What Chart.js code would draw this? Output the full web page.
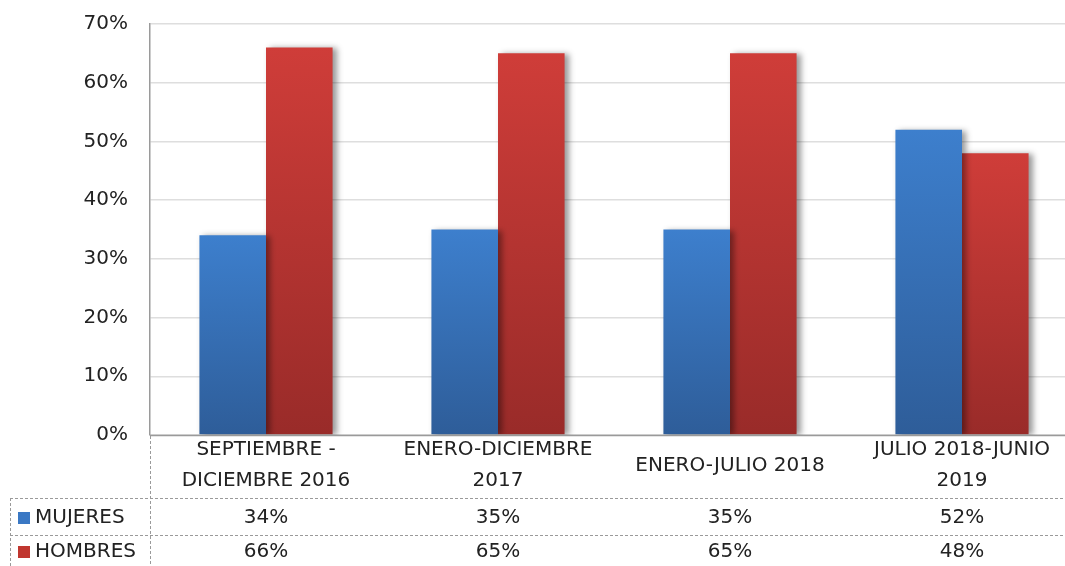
<!DOCTYPE html>
<html><head><meta charset="utf-8">
<script src="https://cdn.jsdelivr.net/npm/chart.js@4.4.0/dist/chart.umd.min.js"></script>
<style>
html,body{margin:0;padding:0;background:#fff;overflow:hidden}
#wrap{width:1065px;height:566px;overflow:hidden;position:relative}
#box{width:1080px;height:566px;position:absolute;left:0;top:0}
</style></head><body>
<div id="wrap"><div id="box"><canvas id="c"></canvas></div></div>
<script>
const categories = [["SEPTIEMBRE -","DICIEMBRE 2016"],["ENERO-DICIEMBRE","2017"],["ENERO-JULIO 2018"],["JULIO 2018-JUNIO","2019"]];
const seriesNames = ["MUJERES","HOMBRES"];
const mujeres = [34,35,35,52];
const hombres = [66,65,65,48];
const yTicks = [0,10,20,30,40,50,60,70];

const FONT = '"DejaVu Sans", sans-serif';
const TXT = '#222222';
const colors = [{top:'#3D7FCD',bot:'#2E5D99',sw:'#3A78C4'},{top:'#CF3D39',bot:'#992B29',sw:'#C0362F'}];

function grad(ctx, di){
  const chart = ctx.chart;
  const ca = chart.chartArea;
  if(!ca) return colors[di].top;
  const v = ctx.raw;
  const y = chart.scales.y.getPixelForValue(v);
  const y0 = chart.scales.y.getPixelForValue(0);
  const g = chart.ctx.createLinearGradient(0,y,0,y0);
  g.addColorStop(0,colors[di].top);
  g.addColorStop(1,colors[di].bot);
  return g;
}

const shadowPlugin = {
  id:'shadow',
  beforeDatasetDraw(chart){
    const c=chart.ctx; c.save();
    c.shadowColor='rgba(0,0,0,0.4)';
    c.shadowOffsetX=4; c.shadowOffsetY=1; c.shadowBlur=6;
  },
  afterDatasetDraw(chart){ chart.ctx.restore(); }
};

const tablePlugin = {
  id:'table',
  afterDraw(chart){
    const c=chart.ctx, x=chart.scales.x, ca=chart.chartArea;
    c.save();
    c.strokeStyle='#9a9a9a'; c.lineWidth=1.5; c.setLineDash([]);
    c.beginPath(); c.moveTo(ca.left,ca.bottom+0.5); c.lineTo(1080,ca.bottom+0.5); c.stroke();
    c.strokeStyle='#9a9a9a'; c.lineWidth=1; c.setLineDash([3,2]);
    c.beginPath();
    c.moveTo(10,498.5); c.lineTo(1080,498.5);
    c.moveTo(10,535.5); c.lineTo(1080,535.5);
    c.moveTo(ca.left+0.5,ca.bottom+1); c.lineTo(ca.left+0.5,566);
    c.moveTo(10.5,498); c.lineTo(10.5,566);
    c.stroke();
    c.setLineDash([]);
    c.fillStyle=TXT;
    c.font='20px '+FONT;
    c.textAlign='center'; c.textBaseline='middle';
    categories.forEach((lab,i)=>{
      const cx=x.getPixelForValue(i);
      if(lab.length===1){ c.fillText(lab[0],cx,466); }
      else { c.fillText(lab[0],cx,450); c.fillText(lab[1],cx,481); }
      c.fillText(mujeres[i]+'%',cx,518);
      c.fillText(hombres[i]+'%',cx,552);
    });
    c.textAlign='left';
    [mujeres,hombres].forEach((s,k)=>{
      const yy = k===0?518:552;
      c.fillStyle=colors[k].sw;
      c.fillRect(18,yy-6,12,12);
      c.fillStyle=TXT;
      c.fillText(seriesNames[k],35,yy);
    });
    c.restore();
  }
};

new Chart(document.getElementById('c'),{
  type:'bar',
  data:{
    labels:categories.map(l=>l.join(' ')),
    datasets:[
      {label:seriesNames[0],data:mujeres,backgroundColor:ctx=>grad(ctx,0),borderWidth:0},
      {label:seriesNames[1],data:hombres,backgroundColor:ctx=>grad(ctx,1),borderWidth:0}
    ]
  },
  options:{
    responsive:true,maintainAspectRatio:false,animation:false,
    layout:{padding:{top:24,right:2,left:0,bottom:0}},
    plugins:{legend:{display:false},tooltip:{enabled:false}},
    datasets:{bar:{categoryPercentage:0.574,barPercentage:1}},
    scales:{
      x:{
        grid:{display:false},
        border:{display:false},
        ticks:{display:false},
        afterFit(s){s.height=131;}
      },
      y:{
        min:0,max:70,
        afterBuildTicks(s){s.ticks=yTicks.map(v=>({value:v}));},
        ticks:{font:{family:FONT,size:20},color:TXT,padding:22,callback:v=>v+'%'},
        grid:{color:'#dedede',lineWidth:1.5,drawTicks:false},
        border:{display:true,color:'#9a9a9a',width:1.5},
        afterFit(s){s.width=150;s.paddingTop=0;s.paddingBottom=0;}
      }
    }
  },
  plugins:[shadowPlugin,tablePlugin]
});
</script></body></html>
